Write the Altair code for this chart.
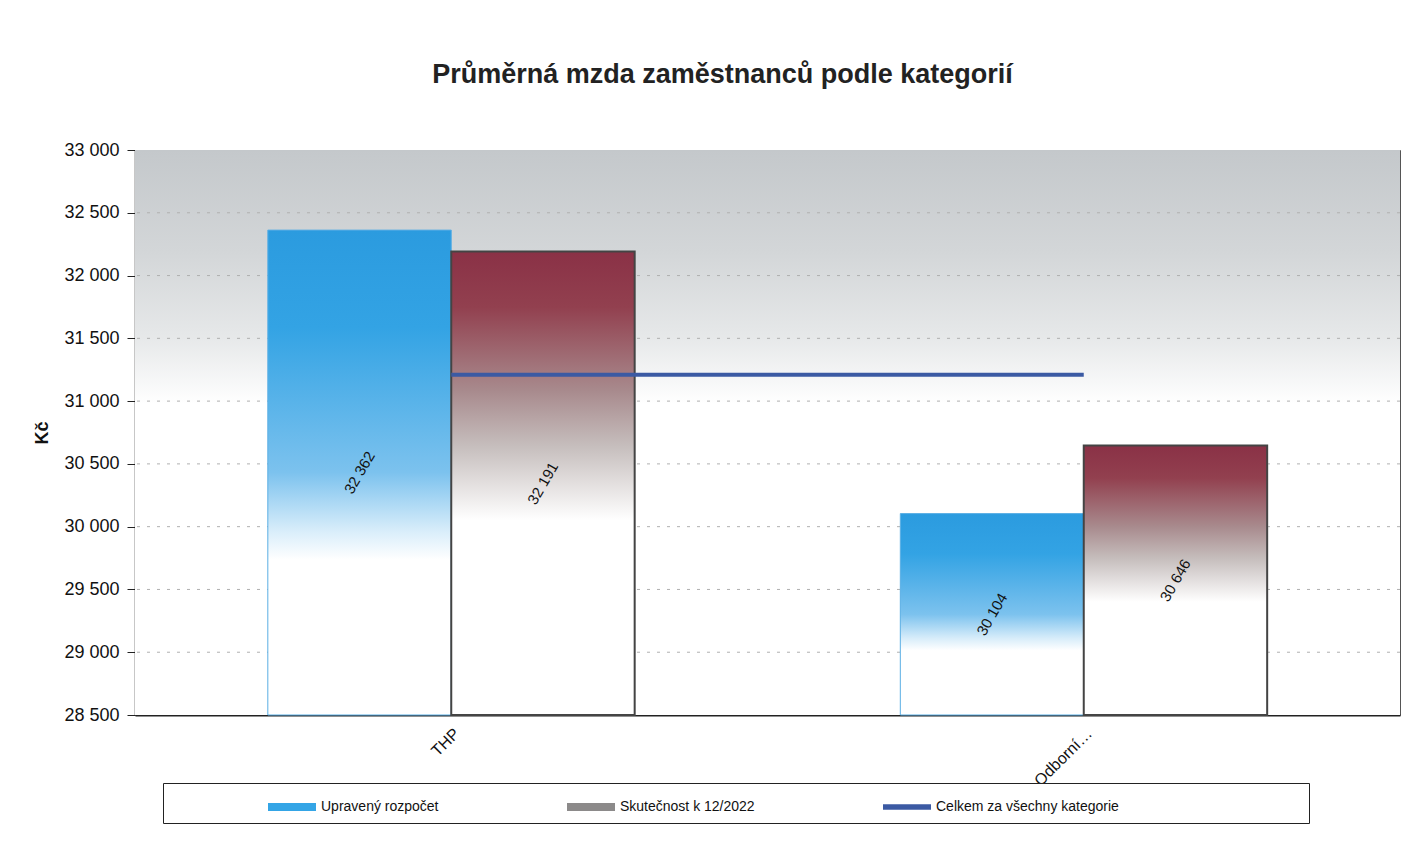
import altair as alt
import pandas as pd

# ---- data ----
categories = ["THP", "Odborní…"]
series = ["Upravený rozpočet", "Skutečnost k 12/2022"]
budget = [32362, 30104]
actual = [32191, 30646]
total_all = [31210, 31210]
legend_items = ["Upravený rozpočet", "Skutečnost k 12/2022", "Celkem za všechny kategorie", " "]
legend_colors = ["#34a5e6", "#8c8a8a", "#3b5aa3", "rgba(0,0,0,0)"]
y_ticks = [28500, 29000, 29500, 30000, 30500, 31000, 31500, 32000, 32500, 33000]
grid_values = [29000, 29500, 30000, 30500, 31000, 31500, 32000, 32500]

rows = []
for c, b, a in zip(categories, budget, actual):
    rows.append({"kat": c, "rada": series[0], "hodnota": b})
    rows.append({"kat": c, "rada": series[1], "hodnota": a})
bars_df = pd.DataFrame(rows)
line_df = pd.DataFrame({"kat": categories, "hodnota": total_all})
leg_df = pd.DataFrame({"polozka": legend_items})
grid_df = pd.DataFrame({"hodnota": grid_values})
bg_df = pd.DataFrame({"a": [0]})

W, H = 1265, 565
FONT = "Liberation Sans"
YMIN, YMAX = 28500, 33000

x_enc = alt.X("kat:N", sort=categories, title=None,
              scale=alt.Scale(domain=categories, paddingInner=0.42, paddingOuter=0.21))
xo_enc = alt.XOffset("rada:N", sort=series,
                     scale=alt.Scale(domain=series, paddingInner=0, paddingOuter=0))
y_scale = alt.Scale(domain=[YMIN, YMAX], nice=False, zero=False)
y_axis = alt.Axis(values=y_ticks, labelExpr="replace(format(datum.value, ','), ',', ' ')",
                  grid=False, title="Kč")


def Y(field):
    return alt.Y(field, scale=y_scale, axis=y_axis, title="Kč")


def grad(stops):
    return alt.Gradient(gradient="linear", x1=0, x2=0, y1=0, y2=1,
                        stops=[alt.GradientStop(color=c, offset=o) for o, c in stops])


background = alt.Chart(bg_df).mark_rect(
    color=grad([(0, "#c4c8cb"), (0.18, "#d3d6d8"), (0.33, "#e6e8e9"), (0.45, "#ffffff"), (1, "#ffffff")])
).encode(x=alt.value(0), x2=alt.value(W), y=alt.value(0), y2=alt.value(H))

grid = alt.Chart(grid_df).mark_rule(color="#b0b0b0", strokeDash=[3, 7], strokeWidth=1).encode(
    y=Y("hodnota:Q")
)

blue_bars = alt.Chart(bars_df).transform_filter(
    alt.datum.rada == series[0]
).mark_bar(
    color=grad([(0, "#2b9bdf"), (0.2, "#33a3e4"), (0.5, "#7cc2ee"), (0.62, "#d8edfa"), (0.68, "#ffffff"), (1, "#ffffff")]),
    stroke="#5aaee4", strokeWidth=1
).encode(x=x_enc, xOffset=xo_enc, y=Y("hodnota:Q"), y2=alt.datum(YMIN))

red_bars = alt.Chart(bars_df).transform_filter(
    alt.datum.rada == series[1]
).mark_bar(
    color=grad([(0, "#8a3146"), (0.12, "#92404f"), (0.3, "#a88a8d"), (0.42, "#c6bebd"), (0.58, "#ffffff"), (1, "#ffffff")]),
    stroke="#444444", strokeWidth=2
).encode(x=x_enc, xOffset=xo_enc, y=Y("hodnota:Q"), y2=alt.datum(YMIN))

labels = alt.Chart(bars_df).transform_calculate(
    mid="(datum.hodnota + 28500) / 2",
    lab="replace(format(datum.hodnota, ','), ',', ' ')"
).mark_text(angle=300, font=FONT, fontSize=15, color="#111").encode(
    x=x_enc, xOffset=xo_enc, y=Y("mid:Q"), text="lab:N"
)

line = alt.Chart(line_df).mark_line(color="#3b5aa3", strokeWidth=4).encode(
    x=x_enc, y=Y("hodnota:Q")
)

bar_path = "M-1.6,-0.26H1.6V0.26H-1.6Z"
line_path = "M-1.6,-0.18H1.6V0.18H-1.6Z"
empty_path = "M0,0Z"
leg = alt.Legend(
    title=" ", titleOrient="left", titlePadding=96, titleFontSize=14,
    orient="none", legendX=28, legendY=633, direction="horizontal",
    symbolSize=900, symbolOffset=9, labelOffset=14, columnPadding=128, labelLimit=400,
    padding=9, strokeColor="#222", fillColor="white", symbolOpacity=1,
    symbolStrokeWidth=0, labelFont=FONT, labelFontSize=14, labelColor="#111"
)
legend_layer = alt.Chart(leg_df).mark_point(filled=True, opacity=0).encode(
    x=alt.value(0), y=alt.value(0),
    color=alt.Color("polozka:N", sort=legend_items,
                    scale=alt.Scale(domain=legend_items, range=legend_colors),
                    legend=leg),
    shape=alt.Shape("polozka:N", sort=legend_items,
                    scale=alt.Scale(domain=legend_items, range=[bar_path, bar_path, line_path, empty_path]),
                    legend=leg),
)

chart = alt.layer(
    background, grid, legend_layer, blue_bars, red_bars, labels, line
).properties(
    width=W, height=H,
    title=alt.TitleParams("Průměrná mzda zaměstnanců podle kategorií", font=FONT, fontSize=27,
                          fontWeight="bold", color="#222", offset=52, dx=-45, anchor="middle"),
    autosize=alt.AutoSizeParams(type="none"),
    padding={"left": 127, "top": 142, "right": 16, "bottom": 125},
).configure_view(
    stroke="#555", strokeWidth=1
).configure_axisY(
    labelFont=FONT, labelFontSize=18, labelColor="#111", labelPadding=8,
    tickSize=8, tickColor="#222", domainColor="#222", domainWidth=1.5,
    titleFont=FONT, titleFontSize=18, titleFontWeight="bold", titleColor="#111", titlePadding=12
).configure_axisX(
    labelAngle=315, ticks=False, labelFont=FONT, labelFontSize=16, labelColor="#111",
    labelPadding=10, domainColor="#222", domainWidth=2, grid=False
)

chart.save("out.html", embed_options={"renderer": "svg", "actions": False})
